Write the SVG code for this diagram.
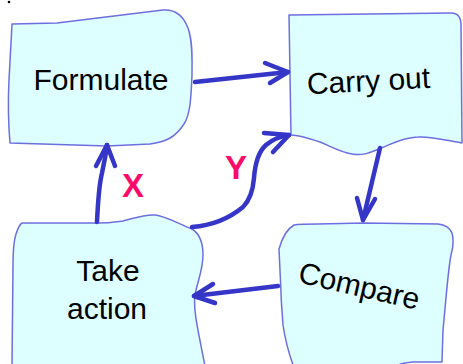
<svg xmlns="http://www.w3.org/2000/svg" width="463" height="364" viewBox="0 0 463 364">
<style>
.box{fill:#ddffff;stroke:#6e6ee0;stroke-width:1.5;stroke-linejoin:round}
.lbl{font-family:"Liberation Sans",Arial,sans-serif;font-size:30px;fill:#000;text-anchor:middle}
.ed{fill:none;stroke:#3535c8;stroke-width:4.5;stroke-linecap:round;stroke-linejoin:round}
.tag{font-family:"Liberation Sans",Arial,sans-serif;font-size:33px;font-weight:bold;fill:#ff0a6a;text-anchor:middle}
</style>
<rect width="463" height="364" fill="#ffffff"/>
<circle cx="9" cy="2" r="1.3" fill="#000"/>
<g id="formulate">
<path class="box" d="M12,24 L57,23 L163,10 C175,9 183,15 188,28 C193,42 192,60 192,75 C191,100 190,115 184,124 C175,138 165,142 150,144 L107,146 L10,143 C8,120 8,100 9,80 C10,60 11,40 12,24 Z"/>
<text class="lbl" x="101" y="90">Formulate</text>
</g>
<g id="carry-out">
<path class="box" d="M289,15 L451,13 C458,13 461,18 461,25 L462,143 C445,140 430,136 418,137 C400,138 390,145 381,148 C370,153 362,156 352,154 C340,152 330,146 320,142 C308,138 298,135 291,135 L289,15 Z"/>
<text class="lbl" x="369" y="91" transform="rotate(-3 369 91)">Carry out</text>
</g>
<g id="take-action">
<path class="box" d="M22,223 L97,223 C110,223 115,222 123,221 C135,218 145,214 155,215 C165,216 175,222 192,229 C200,234 203,242 203,255 C203,270 197,283 195,295 C193,310 198,330 205,366 L12,366 L13,265 C13,250 14,240 16,234 C18,228 20,224 22,223 Z"/>
<text class="lbl" x="108" y="281">Take</text>
<text class="lbl" x="107" y="319">action</text>
</g>
<g id="compare">
<path class="box" d="M294,225 C300,224 310,224 318,224 L364,223 L438,224 C446,225 450,228 452,233 C454,240 453,248 451,255 C448,270 446,300 443,330 L442,362 L413,362 C400,363 395,366 390,370 L295,370 C291,360 286,345 283,325 C282,310 281,300 281,292 L279,249 C282,238 287,229 294,225 Z"/>
<text class="lbl" x="357" y="296" transform="rotate(13 357 296)">Compare</text>
</g>
<g id="connectors">
<path class="ed" d="M195,82 L288,72"/>
<polyline class="ed" points="265,63 288,72 270,83"/>
<path class="ed" d="M380,148 L363,220"/>
<polyline class="ed" points="357,198 363,220 375,199"/>
<path class="ed" d="M278,286 L194,296"/>
<polyline class="ed" points="213,284 194,296 215,303"/>
<path class="ed" d="M97,222 C98,200 99,185 102,173 C104,162 106,155 107,145"/>
<polyline class="ed" points="96,166 107,145 115,166"/>
<path class="ed" d="M192,227 C205,226 225,222 243,207 C250,200 253,190 254,178 C255,165 258,152 266,145 C273,139 282,136 289,135"/>
<polyline class="ed" points="264,133 289,135 273,152"/>
<text class="tag" x="133" y="197">X</text>
<text class="tag" x="236" y="179">Y</text>
</g>
</svg>
